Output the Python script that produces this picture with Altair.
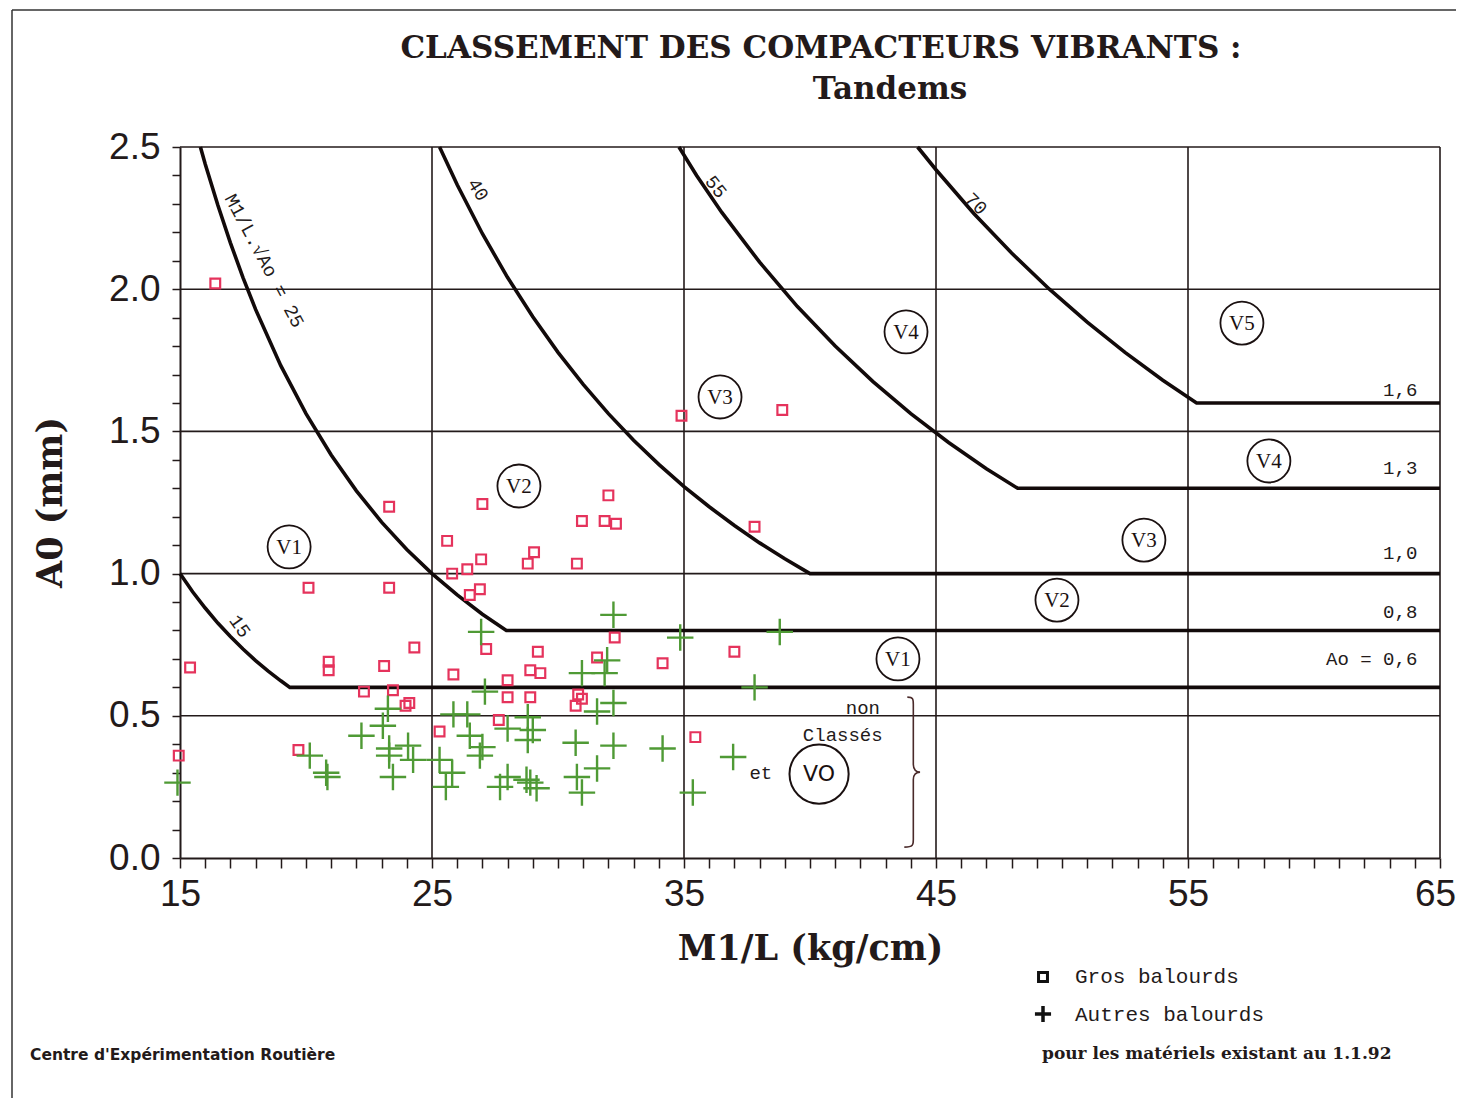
import altair as alt
import pandas as pd

# ---------------- data ----------------
# Gros balourds (red squares)
sq_x = [16.4, 14.95, 15.4, 20.1, 20.9, 20.9, 19.7, 22.3, 23.3, 23.3,
        23.1, 23.45, 23.95, 24.1, 24.3, 25.3, 25.6, 25.8, 25.85, 26.4,
        26.5, 26.9, 26.95, 27.0, 27.15, 27.65, 28.0, 28.0, 28.8, 29.05,
        28.9, 29.2, 29.3, 28.9, 30.75, 30.95, 31.85, 32.3, 32.0, 32.25,
        31.55, 30.8, 30.7, 30.95, 34.15, 34.9, 38.9, 37.8, 37.0, 35.45]
sq_y = [2.02, 0.36, 0.67, 0.95, 0.69, 0.66, 0.38, 0.585, 1.235, 0.95,
        0.675, 0.59, 0.535, 0.545, 0.74, 0.445, 1.115, 1.0, 0.645, 1.015,
        0.925, 0.945, 1.05, 1.245, 0.735, 0.485, 0.625, 0.565, 1.035, 1.075,
        0.66, 0.725, 0.65, 0.565, 1.035, 1.185, 1.185, 1.175, 1.275, 0.775,
        0.705, 0.575, 0.535, 0.56, 0.685, 1.555, 1.575, 1.165, 0.725, 0.425]

# Autres balourds (green crosses)
pl_x = [14.9, 20.15, 20.8, 20.85, 22.2, 23.05, 23.25, 23.3, 23.3, 24.05,
        24.25, 23.45, 25.3, 25.85, 25.8, 25.55, 27.1, 26.4, 26.5, 27.0,
        26.9, 28.0, 28.8, 29.0, 28.8, 28.0, 27.7, 28.75, 28.9, 29.15,
        30.7, 30.95, 31.95, 31.85, 31.55, 32.2, 32.2, 34.15, 31.55, 30.75,
        30.95, 32.2, 26.95, 34.85, 38.8, 37.8, 36.95, 35.35]
pl_y = [0.265, 0.36, 0.30, 0.285, 0.43, 0.465, 0.525, 0.385, 0.36, 0.395,
        0.345, 0.285, 0.345, 0.505, 0.30, 0.25, 0.585, 0.505, 0.43, 0.39,
        0.36, 0.455, 0.495, 0.45, 0.415, 0.285, 0.25, 0.275, 0.265, 0.245,
        0.405, 0.65, 0.695, 0.65, 0.515, 0.545, 0.395, 0.385, 0.315, 0.285,
        0.23, 0.855, 0.795, 0.775, 0.795, 0.6, 0.355, 0.23]

# class boundary curves (M1/L . sqrt(A0) = const, then flat A0 limit)
c15_x = [15, 15.5, 16, 16.5, 17, 17.5, 18, 18.5, 19, 19.36, 65]
c15_y = [1.0, 0.936, 0.879, 0.826, 0.779, 0.735, 0.694, 0.657, 0.623, 0.6, 0.6]
c25_x = [15.81, 16, 16.5, 17, 17.5, 18, 19, 20, 21, 22, 23, 24, 25, 26, 27, 27.95, 65]
c25_y = [2.5, 2.44, 2.296, 2.163, 2.041, 1.929, 1.731, 1.5625, 1.417, 1.291,
         1.181, 1.085, 1.0, 0.925, 0.857, 0.8, 0.8]
c40_x = [25.3, 26, 27, 28, 29, 30, 31, 32, 33, 34, 35, 36, 37, 38, 39, 40, 65]
c40_y = [2.5, 2.367, 2.195, 2.041, 1.903, 1.778, 1.665, 1.5625, 1.469, 1.384,
         1.306, 1.235, 1.169, 1.108, 1.052, 1.0, 1.0]
c55_x = [34.8, 35.5, 36.5, 38, 39.5, 41, 42.5, 44, 45.5, 47, 48.24, 65]
c55_y = [2.5, 2.4, 2.27, 2.095, 1.939, 1.8, 1.675, 1.5625, 1.461, 1.369, 1.3, 1.3]
c70_x = [44.27, 45, 46.5, 48, 49.5, 51, 52.5, 54, 55.34, 65]
c70_y = [2.5, 2.42, 2.266, 2.127, 2.0, 1.884, 1.778, 1.68, 1.6, 1.6]

grid_x = [25, 35, 45, 55, 65]
grid_y = [0.5, 1.0, 1.5, 2.0, 2.5]
x_ticks = list(range(15, 66))
y_ticks = [round(i * 0.1, 1) for i in range(26)]

# class circles
cls_text = ["V1", "V2", "V3", "V4", "V5", "V4", "V3", "V2", "V1"]
cls_x = [19.33, 28.45, 36.43, 43.81, 57.14, 58.21, 53.25, 49.8, 43.49]
cls_y = [1.094, 1.308, 1.621, 1.85, 1.881, 1.396, 1.118, 0.907, 0.70]

lim_text = ["1,6", "1,3", "1,0", "0,8", "Ao = 0,6"]
lim_y = [1.646, 1.371, 1.072, 0.865, 0.70]

# ---------------- chart ----------------
W, H = 1260, 711
INK = "#231a1a"
SQ_COL = "#e5335c"
PL_COL = "#4f9a35"

xs = alt.Scale(domain=[15, 65], nice=False, zero=False)
ys = alt.Scale(domain=[0, 2.5], nice=False, zero=False)

AX_X = alt.Axis(values=x_ticks, grid=False,
                labelExpr="(datum.value - 15) % 10 == 0 ? datum.value : ''",
                tickSize=10, tickWidth=1.5, tickColor=INK,
                domainColor=INK, domainWidth=2,
                labelFont="Liberation Sans", labelFontSize=37, labelColor=INK,
                labelPadding=8, labelFlush=False, labelOverlap=False,
                labelOffset={"condition": {"test": "datum.value == 65", "value": -5}, "value": 0},
                titleFont="DejaVu Serif", titleFontSize=35, titleFontWeight="bold",
                titleColor=INK, titleX=630, titleY=90, titleBaseline="middle",
                titleAlign="center")
AX_Y = alt.Axis(values=y_ticks, grid=False,
                labelExpr="abs(datum.value * 2 - round(datum.value * 2)) < 0.01 ? format(datum.value, '.1f') : ''",
                tickSize=8, tickWidth=1.5, tickColor=INK,
                domainColor=INK, domainWidth=2,
                labelFont="Liberation Sans", labelFontSize=37, labelColor=INK,
                labelPadding=12, labelFlush=False, labelOverlap=False,
                titleFont="DejaVu Serif", titleFontSize=35, titleFontWeight="bold",
                titleColor=INK, titleX=-130, titleY=355, titleAngle=-90,
                titleBaseline="middle", titleAlign="center")


def X():
    return alt.X("x:Q", scale=xs, axis=AX_X, title="M1/L (kg/cm)")


def Y():
    return alt.Y("y:Q", scale=ys, axis=AX_Y, title="A0 (mm)")


sq_df = pd.DataFrame({"x": sq_x, "y": sq_y})
pl_df = pd.DataFrame({"x": pl_x, "y": pl_y})

curves = []
for name, cx, cy in [("15", c15_x, c15_y), ("25", c25_x, c25_y), ("40", c40_x, c40_y),
                     ("55", c55_x, c55_y), ("70", c70_x, c70_y)]:
    for i, (a, b) in enumerate(zip(cx, cy)):
        curves.append({"x": a, "y": b, "curve": name, "o": i})
curve_df = pd.DataFrame(curves)

one = pd.DataFrame({"a": [0]})

vgrid = alt.Chart(pd.DataFrame({"x": grid_x})).mark_rule(color=INK, strokeWidth=1.6).encode(x=X())
hgrid = alt.Chart(pd.DataFrame({"y": grid_y})).mark_rule(color=INK, strokeWidth=1.6).encode(y=Y())

lines = alt.Chart(curve_df).mark_line(color="#120a0a", strokeWidth=3.6).encode(
    x=X(), y=Y(), detail="curve:N", order="o:Q")

squares = alt.Chart(sq_df).mark_point(shape="square", size=95, filled=False,
                                      color=SQ_COL, strokeWidth=2.2, opacity=1).encode(x=X(), y=Y())

PLUS = "M-1,0L1,0M0,-1L0,1"
pluses = alt.Chart(pl_df).mark_point(shape=PLUS, size=700, filled=False,
                                     color=PL_COL, strokeWidth=2.4, opacity=1).encode(x=X(), y=Y())

cls_df = pd.DataFrame({"x": cls_x, "y": cls_y, "t": cls_text})
circles = alt.Chart(cls_df).mark_point(shape="circle", size=1850, filled=False,
                                       color="#1a1010", strokeWidth=1.8, opacity=1).encode(x=X(), y=Y())
cls_lbl = alt.Chart(cls_df).mark_text(font="Liberation Serif", fontSize=21, color="#1a1010",
                                      dy=1).encode(x=X(), y=Y(), text="t:N")

v0_df = pd.DataFrame({"x": [40.36], "y": [0.295], "t": ["VO"]})
v0_circ = alt.Chart(v0_df).mark_point(shape="circle", size=3500, filled=False,
                                      color="#1a1010", strokeWidth=2, opacity=1).encode(x=X(), y=Y())
v0_lbl = alt.Chart(v0_df).mark_text(font="DejaVu Sans", fontSize=22, color="#1a1010").encode(
    x=X(), y=Y(), text="t:N")

lim_df = pd.DataFrame({"x": [64.1] * len(lim_text), "y": lim_y, "t": lim_text})
lim_lbl = alt.Chart(lim_df).mark_text(font="Liberation Mono", fontSize=19, color=INK,
                                      align="right").encode(x=X(), y=Y(), text="t:N")

# rotated curve labels
curve_lbls = []
for t, x, y, ang in [("M1/L.√Ao = 25", 18.35, 2.10, 62), ("40", 26.83, 2.35, 58),
                     ("55", 36.27, 2.36, 52), ("70", 46.59, 2.30, 45), ("15", 17.38, 0.815, 55)]:
    curve_lbls.append(
        alt.Chart(pd.DataFrame({"x": [x], "y": [y]})).mark_text(
            text=t, angle=ang, font="Liberation Mono", fontSize=19, color=INK).encode(x=X(), y=Y()))

notes_df = pd.DataFrame({"x": [42.1, 41.3, 38.05], "y": [0.527, 0.432, 0.30],
                         "t": ["non", "Classés", "et"]})
notes = alt.Chart(notes_df).mark_text(font="Liberation Mono", fontSize=19, color=INK).encode(
    x=X(), y=Y(), text="t:N")

BRACE = ("M-0.08,-1 C0,-1 0,-0.97 0,-0.9 L0,-0.1 C0,-0.03 0.04,0 0.09,0 "
         "C0.04,0 0,0.03 0,0.1 L0,0.9 C0,0.97 0,1 -0.12,1")
brace = alt.Chart(pd.DataFrame({"x": [44.1], "y": [0.302]})).mark_point(
    shape=BRACE, size=22500, filled=False, color="#4a2a2a", strokeWidth=1.6, opacity=1).encode(
    x=X(), y=Y())


# titles and page notes (positions relative to the plot area)
def txt(t, x, y, **kw):
    return alt.Chart(one).mark_text(text=t, **kw).encode(x=alt.value(x), y=alt.value(y))


title1 = txt("CLASSEMENT DES COMPACTEURS VIBRANTS :", 641, -98, font="DejaVu Serif",
             fontSize=31, fontWeight="bold", color=INK, baseline="middle")
title2 = txt("Tandems", 710, -57, font="DejaVu Serif", fontSize=31, fontWeight="bold",
             color=INK, baseline="middle")
leg_sq = alt.Chart(one).mark_point(shape="square", size=80, filled=False, color="#111",
                                   strokeWidth=3, opacity=1).encode(
    x=alt.value(863), y=alt.value(830))
leg_pl = alt.Chart(one).mark_point(shape=PLUS, size=260, filled=False, color="#111",
                                   strokeWidth=3.5, opacity=1).encode(
    x=alt.value(863), y=alt.value(867))
leg_t1 = txt("Gros balourds", 895, 830, font="Liberation Mono", fontSize=21, color=INK,
             align="left", baseline="middle")
leg_t2 = txt("Autres balourds", 895, 868, font="Liberation Mono", fontSize=21, color=INK,
             align="left", baseline="middle")
note1 = txt("pour les matériels existant au 1.1.92", 862, 907, font="DejaVu Serif",
            fontSize=17, fontWeight="bold", color=INK, align="left", baseline="middle")
note2 = txt("Centre d'Expérimentation Routière", -150, 908, font="DejaVu Sans",
            fontSize=15.5, fontWeight="bold", color=INK, align="left", baseline="middle")

frame_l = alt.Chart(one).mark_rule(color="#333", strokeWidth=1.5).encode(
    x=alt.value(-168), y=alt.value(-137), y2=alt.value(964))
frame_t = alt.Chart(one).mark_rule(color="#333", strokeWidth=1.5).encode(
    x=alt.value(-168), x2=alt.value(1276), y=alt.value(-137))

chart = alt.layer(
    vgrid, hgrid, lines, squares, pluses, circles, cls_lbl, v0_circ, v0_lbl,
    lim_lbl, *curve_lbls, notes, brace, title1, title2, leg_sq, leg_pl, leg_t1, leg_t2,
    note1, note2, frame_l, frame_t
).properties(
    width=W, height=H,
    padding={"left": 172, "top": 139, "right": 16, "bottom": 240},
    autosize=alt.AutoSizeParams(type="none"),
    background="white",
).configure_view(stroke=None)

chart.save("out.html", embed_options={"renderer": "svg", "actions": False})
